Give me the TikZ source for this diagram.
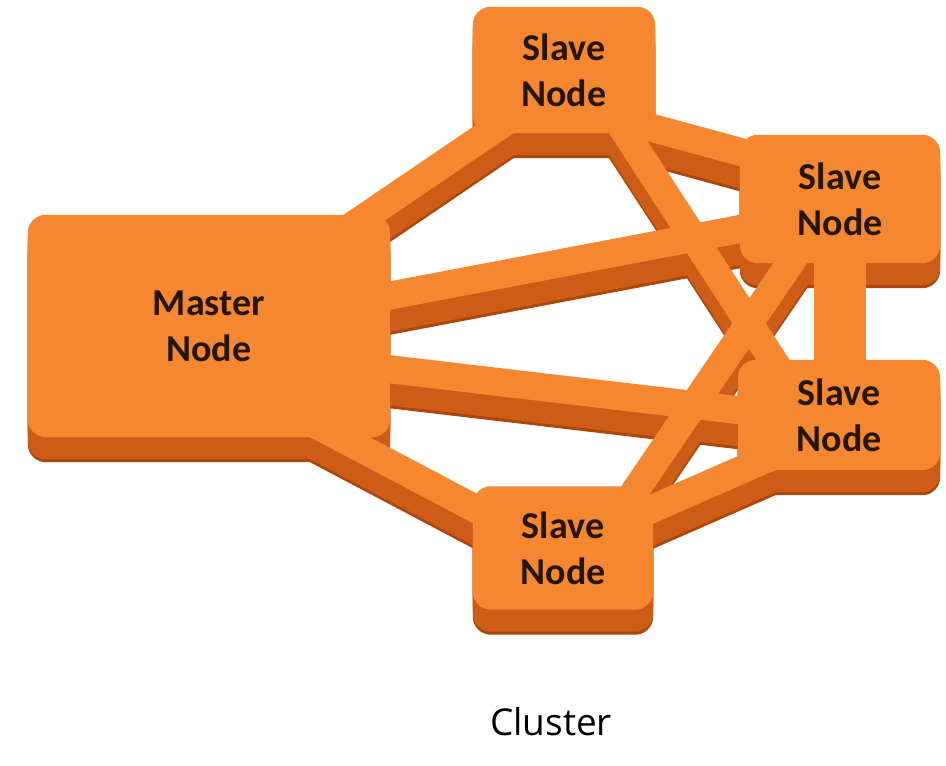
\documentclass[tikz,border=0pt]{standalone}
\usepackage{fontspec}
\setmainfont{Carlito}
\newfontfamily\captionfont{Open Sans}
\usetikzlibrary{calc}

\definecolor{slabtop}{RGB}{245,135,48}
\definecolor{slabside}{RGB}{204,92,22}
\definecolor{slabrim}{RGB}{172,70,10}
\definecolor{labelink}{RGB}{38,22,10}

\pgfdeclarelayer{background}
\pgfsetlayers{background,main}

\tikzset{
  slab/.style={rectangle, inner sep=0pt, align=center, text=labelink,
    font=\bfseries\fontsize{38}{46}\selectfont},
  caption/.style={inner sep=0pt, text=black,
    font=\captionfont\fontsize{37}{40}\selectfont},
}

% one box of the cluster, lowered by #2
\newcommand\slabbody[2]{%
  \fill[rounded corners=18pt] ([yshift=-#2]#1.north west) rectangle ([yshift=-#2]#1.south east);}
% one link bar between two points, width #3, lowered by #4
\newcommand\slabbar[4]{%
  \draw[line width=#3] ([yshift=-#4]#1) -- ([yshift=-#4]#2);}

% a full horizontal slice of the cluster (bars and boxes), lowered by #1
\newcommand\clusterslice[1]{%
  \slabbar{mt1}{mt2}{28pt}{#1}
  \slabbar{mu1}{mu2}{28pt}{#1}
  \slabbar{ml1}{ml2}{28pt}{#1}
  \slabbar{mb1}{mb2}{28pt}{#1}
  \slabbar{tu1}{tu2}{28pt}{#1}
  \slabbar{tl1}{tl2}{28pt}{#1}
  \slabbar{ub1}{ub2}{28pt}{#1}
  \slabbar{bl1}{bl2}{28pt}{#1}
  \slabbar{U}{ul2}{52pt}{#1}
  \slabbody{M}{#1}
  \slabbody{T}{#1}
  \slabbody{U}{#1}
  \slabbody{L}{#1}
  \slabbody{B}{#1}
}

\begin{document}
\begin{tikzpicture}[x=1pt,y=-1pt]
\useasboundingbox (0,0) rectangle (946,766);

% boxes
\node[slab, minimum width=362pt, minimum height=222pt] (M) at (209,326) {Master\\Node};
\node[slab, minimum width=182pt, minimum height=126pt] (T) at (564,70)  {Slave\\Node};
\node[slab, minimum width=200pt, minimum height=128pt] (U) at (840,199) {Slave\\Node};
\node[slab, minimum width=202pt, minimum height=110pt] (L) at (839,415) {Slave\\Node};
\node[slab, minimum width=180pt, minimum height=123pt] (B) at (563,548) {Slave\\Node};

% bar end points
\coordinate (mt1) at ($(M)+(0,-3)$);   \coordinate (mt2) at ($(T)+(0,12)$);
\coordinate (mu1) at ($(M)+(0,4)$);    \coordinate (mu2) at ($(U)+(0,11)$);
\coordinate (ml1) at ($(M)+(0,22)$);   \coordinate (ml2) at ($(L)+(0,7)$);
\coordinate (mb1) at ($(M)+(0,42)$);   \coordinate (mb2) at ($(B)+(0,7)$);
\coordinate (tu1) at ($(T)+(0,34)$);   \coordinate (tu2) at ($(U)+(0,-20)$);
\coordinate (tl1) at ($(T)+(0,-32)$);  \coordinate (tl2) at ($(L)+(-20,16)$);
\coordinate (ub1) at ($(U)+(0,-9)$);   \coordinate (ub2) at ($(B)+(27,9)$);
\coordinate (bl1) at ($(B)+(0,0)$);    \coordinate (bl2) at ($(L)+(0,12)$);
\coordinate (ul2) at (U |- L);

\begin{pgfonlayer}{background}
  \begin{scope}[slabrim]
    \clusterslice{25pt}
  \end{scope}
  \begin{scope}[slabside]
    \foreach \d in {22pt,18pt,14pt,10pt,6pt,3pt} {\clusterslice{\d}}
  \end{scope}
  \begin{scope}[slabtop]
    \clusterslice{0pt}
  \end{scope}
\end{pgfonlayer}

\node[caption] (cap) at (551,722) {Cluster};
\end{tikzpicture}
\end{document}
